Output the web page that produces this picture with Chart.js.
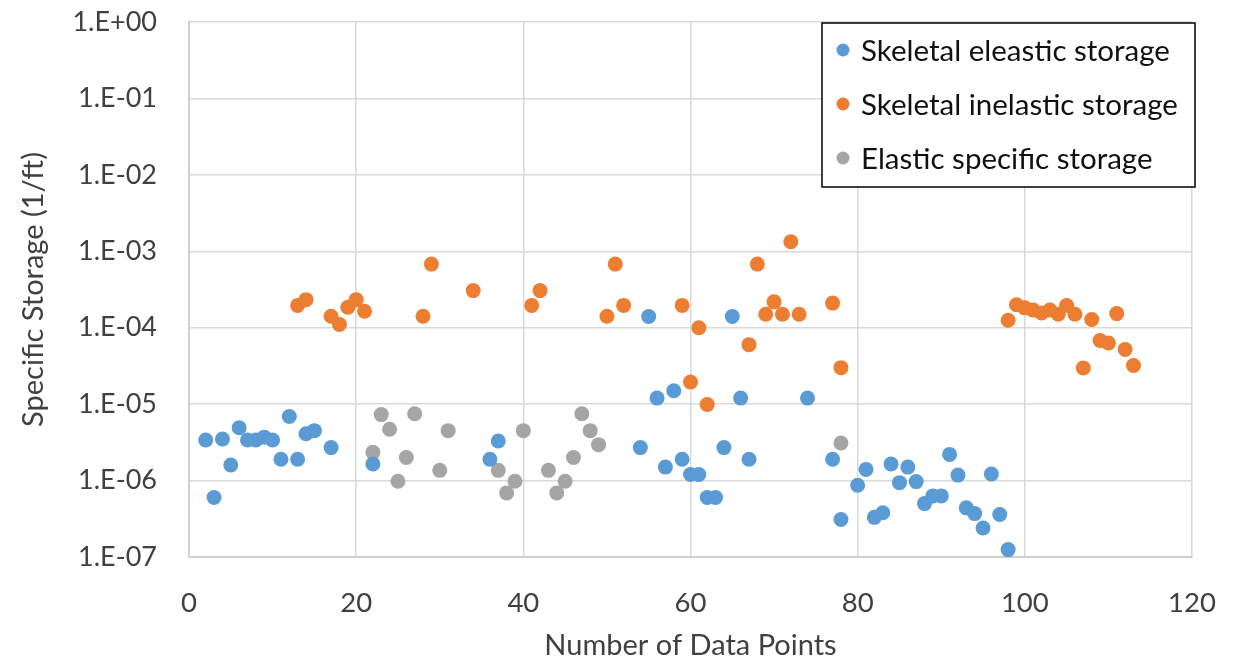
<!DOCTYPE html>
<html>
<head>
<meta charset="utf-8">
<script src="https://cdn.jsdelivr.net/npm/chart.js@4/dist/chart.umd.min.js"></script>
<style>
html,body{margin:0;padding:0;background:#fff;}
#wrap{width:1245px;height:660px;position:relative;}
</style>
</head>
<body>
<div id="wrap"><canvas id="c" width="1245" height="660"></canvas></div>
<script>
const seriesNames = ['Skeletal eleastic storage', 'Skeletal inelastic storage', 'Elastic specific storage'];
const seriesColors = ['#5B9BD5', '#ED7D31', '#A5A5A5'];

const elasticX = [2,3,4,5,6,7,8,9,10,11,12,13,14,15,17,22,36,37,54,55,56,57,58,59,60,61,62,63,64,65,66,67,74,77,78,80,81,82,83,84,85,86,87,88,89,90,91,92,93,94,95,96,97,98];
const elasticY = [3.4e-6,6e-7,3.5e-6,1.6e-6,4.9e-6,3.4e-6,3.4e-6,3.7e-6,3.4e-6,1.9e-6,6.9e-6,1.9e-6,4.1e-6,4.5e-6,2.7e-6,1.65e-6,1.9e-6,3.3e-6,2.7e-6,1.4e-4,1.2e-5,1.5e-6,1.5e-5,1.9e-6,1.2e-6,1.2e-6,6e-7,6e-7,2.7e-6,1.4e-4,1.2e-5,1.9e-6,1.2e-5,1.9e-6,3.1e-7,8.7e-7,1.4e-6,3.3e-7,3.8e-7,1.65e-6,9.4e-7,1.5e-6,9.7e-7,5e-7,6.3e-7,6.3e-7,2.2e-6,1.18e-6,4.4e-7,3.7e-7,2.4e-7,1.22e-6,3.6e-7,1.25e-7];

const inelasticX = [13,14,17,18,19,20,21,28,29,34,41,42,50,51,52,59,60,61,62,67,68,69,70,71,72,73,77,78,98,99,100,101,102,103,104,105,106,107,108,109,110,111,112,113];
const inelasticY = [1.96e-4,2.33e-4,1.41e-4,1.1e-4,1.85e-4,2.33e-4,1.64e-4,1.41e-4,6.8e-4,3.06e-4,1.96e-4,3.06e-4,1.41e-4,6.8e-4,1.96e-4,1.96e-4,1.95e-5,1.0e-4,9.9e-6,6.0e-5,6.8e-4,1.5e-4,2.18e-4,1.5e-4,1.33e-3,1.5e-4,2.1e-4,3.0e-5,1.25e-4,2.0e-4,1.82e-4,1.7e-4,1.56e-4,1.7e-4,1.5e-4,1.95e-4,1.5e-4,2.98e-5,1.28e-4,6.8e-5,6.3e-5,1.53e-4,5.2e-5,3.2e-5];

const specificX = [22,23,24,25,26,27,30,31,37,38,39,40,43,44,45,46,47,48,49,78];
const specificY = [2.34e-6,7.3e-6,4.7e-6,9.8e-7,2.0e-6,7.5e-6,1.36e-6,4.5e-6,1.36e-6,6.9e-7,9.8e-7,4.5e-6,1.36e-6,6.9e-7,9.8e-7,2.0e-6,7.5e-6,4.5e-6,2.95e-6,3.1e-6];

const xTicks = [0,20,40,60,80,100,120];
const yTicks = [1e-7,1e-6,1e-5,1e-4,1e-3,1e-2,1e-1,1];
const yTickLabels = ['1.E-07','1.E-06','1.E-05','1.E-04','1.E-03','1.E-02','1.E-01','1.E+00'];

function pts(xs, ys){ return xs.map((x,i)=>({x:x, y:ys[i]})); }

const FONT = 'Lato, "Open Sans", sans-serif';

const legendPlugin = {
  id: 'boxLegend',
  afterDraw(chart){
    const ctx = chart.ctx;
    const bx = 822, by = 23, bw = 373, bh = 164;
    ctx.save();
    ctx.fillStyle = '#ffffff';
    ctx.fillRect(bx, by, bw, bh);
    ctx.strokeStyle = '#000000';
    ctx.lineWidth = 1.5;
    ctx.strokeRect(bx, by, bw, bh);
    const rows = [50, 104, 158];
    chart.data.datasets.forEach((ds, i) => {
      ctx.beginPath();
      ctx.fillStyle = ds.backgroundColor;
      ctx.arc(843, rows[i], 6.5, 0, Math.PI*2);
      ctx.fill();
      ctx.fillStyle = '#111111';
      ctx.font = '29.5px ' + FONT;
      ctx.textBaseline = 'middle';
      ctx.textAlign = 'left';
      ctx.fillText(ds.label, 861, rows[i] + 1);
    });
    ctx.restore();
  }
};

new Chart(document.getElementById('c'), {
  type: 'scatter',
  data: {
    datasets: [
      {label: seriesNames[0], data: pts(elasticX, elasticY), backgroundColor: seriesColors[0], borderColor: seriesColors[0]},
      {label: seriesNames[1], data: pts(inelasticX, inelasticY), backgroundColor: seriesColors[1], borderColor: seriesColors[1]},
      {label: seriesNames[2], data: pts(specificX, specificY), backgroundColor: seriesColors[2], borderColor: seriesColors[2]}
    ]
  },
  options: {
    responsive: false,
    animation: false,
    devicePixelRatio: 1,
    layout: {padding: {top: 22, right: 53, bottom: 0, left: 0}},
    elements: {point: {radius: 7.5, borderWidth: 0, hoverRadius: 7.5}},
    plugins: {legend: {display: false}, tooltip: {enabled: false}},
    scales: {
      x: {
        type: 'linear', min: 0, max: 120,
        afterBuildTicks: s => { s.ticks = xTicks.map(v => ({value: v})); },
        afterFit: s => { s.height = 103; s.paddingLeft = 0; s.paddingRight = 0; },
        grid: {color: '#D9D9D9', lineWidth: 1.5, drawTicks: false},
        border: {color: '#D0D0D0', width: 2},
        ticks: {padding: 30, color: '#404040', font: {family: FONT, size: 27.5}, maxRotation: 0},
        title: {display: true, text: 'Number of Data Points', color: '#404040', font: {family: FONT, size: 29}, padding: {top: 0, bottom: -3}}
      },
      y: {
        type: 'logarithmic', min: 1e-7, max: 1,
        afterBuildTicks: s => { s.ticks = yTicks.map(v => ({value: v})); },
        afterFit: s => { s.width = 189; s.paddingTop = 0; s.paddingBottom = 0; },
        grid: {color: '#D9D9D9', lineWidth: 1.5, drawTicks: false},
        border: {color: '#D0D0D0', width: 2},
        ticks: {padding: 32, color: '#404040', font: {family: FONT, size: 27}, 
          callback: function(v){ const i = yTicks.findIndex(t => Math.abs(Math.log10(t) - Math.log10(v)) < 1e-6); return i >= 0 ? yTickLabels[i] : ''; }},
        title: {display: true, text: 'Specific Storage (1/ft)', color: '#404040', font: {family: FONT, size: 29}, padding: {top: 16, bottom: 0}}
      }
    }
  },
  plugins: [legendPlugin]
});
</script>
</body>
</html>
